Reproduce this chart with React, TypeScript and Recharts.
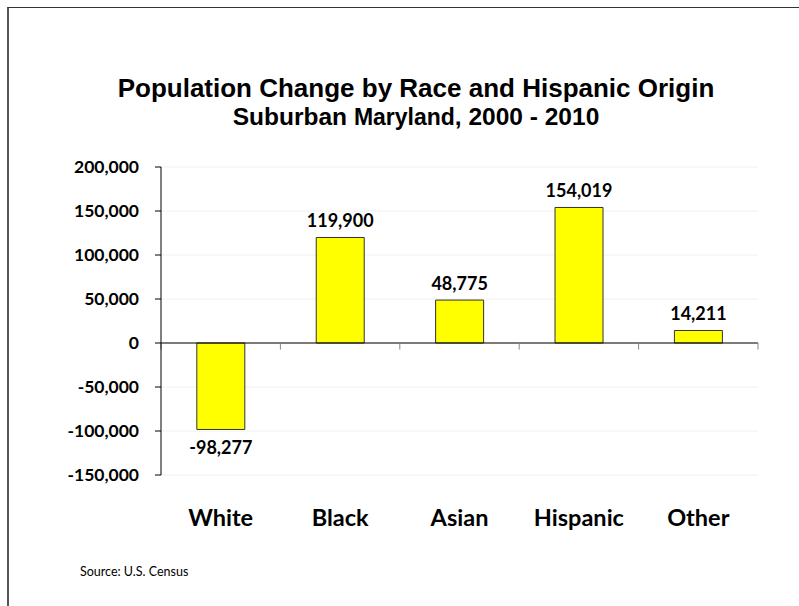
import { BarChart, Bar, XAxis, YAxis, CartesianGrid, ReferenceLine, LabelList } from 'recharts';

const categories = ['White', 'Black', 'Asian', 'Hispanic', 'Other'];
const changes = [-98277, 119900, 48775, 154019, 14211];
const yTicks = [-150000, -100000, -50000, 0, 50000, 100000, 150000, 200000];

const chartData = categories.map((name, i) => ({ name, change: changes[i] }));

const fmt = (v: number) => v.toLocaleString('en-US');
const bodyFont = 'Lato, "Open Sans", sans-serif';

// value label above positive bars, below negative ones
const ValueLabel = (props: any) => {
  const { x, y, width, height, value } = props;
  const top = Math.min(y, y + height);
  const bottom = Math.max(y, y + height);
  const ty = value >= 0 ? top - 10 : bottom + 25;
  return (
    <text x={x + width / 2} y={ty} textAnchor="middle" fontFamily={bodyFont} fontWeight="bold" fontSize={18} fill="#000">
      {fmt(value)}
    </text>
  );
};

const CategoryTick = (props: any) => {
  const { x, y, payload } = props;
  return (
    <text x={x} y={y + 43} textAnchor="middle" fontFamily={bodyFont} fontWeight="bold" fontSize={23.5} fill="#000">
      {payload.value}
    </text>
  );
};

export default function App() {
  return (
    <div style={{ position: 'absolute', left: 0, top: 0, width: 799, height: 606, background: '#fff' }}>
      <div style={{ position: 'absolute', left: 7, top: 7, width: 820, height: 620, borderLeft: '2px solid #555', borderTop: '1px solid #333' }} />
      <svg width={799} height={140} style={{ position: 'absolute', left: 0, top: 0 }}>
        <text x={416} y={97} textAnchor="middle" fontFamily='"Liberation Sans", Arial, sans-serif' fontWeight="bold" fontSize={26} fill="#000">
          Population Change by Race and Hispanic Origin
        </text>
        <text x={416} y={125} textAnchor="middle" fontFamily='"Liberation Sans", Arial, sans-serif' fontWeight="bold" fontSize={24.5} fill="#000">
          Suburban <tspan fontFamily='"Liberation Sans Narrow", "Liberation Sans", sans-serif' fontSize={23}>Maryland</tspan>, 2000 - 2010
        </text>
      </svg>
      <div style={{ position: 'absolute', left: 0, top: 0 }}>
        <BarChart width={799} height={606} data={chartData} margin={{ top: 167, right: 41, left: 61, bottom: 71 }} barCategoryGap="30%">
          <CartesianGrid vertical={false} stroke="#f0f0f0" />
          <XAxis dataKey="name" axisLine={false} tickLine={false} height={60} tick={<CategoryTick />} interval={0} />
          <YAxis
            width={100}
            domain={[-150000, 200000]}
            ticks={yTicks}
            tickFormatter={fmt}
            axisLine={{ stroke: '#000' }}
            tickLine={{ stroke: '#000' }}
            tickSize={6}
            tickMargin={16}
            tick={{ fontFamily: bodyFont, fontWeight: 'bold', fontSize: 17.5, fill: '#000' }}
            interval={0}
          />
          <ReferenceLine y={0} stroke="#000" strokeWidth={1.2} />
          {categories.map((c) => (
            <ReferenceLine key={c} segment={[{ x: c, y: 0 }, { x: c, y: -7500 }]} position="start" stroke="#888" />
          ))}
          <ReferenceLine segment={[{ x: 'Other', y: 0 }, { x: 'Other', y: -7500 }]} position="end" stroke="#888" />
          <Bar dataKey="change" fill="#ffff00" stroke="#333" strokeWidth={1} isAnimationActive={false}>
            <LabelList dataKey="change" content={<ValueLabel />} />
          </Bar>
        </BarChart>
      </div>
      <div style={{ position: 'absolute', left: 80, top: 564, fontFamily: bodyFont, fontSize: 12.5, color: '#000' }}>
        Source: U.S. Census
      </div>
    </div>
  );
}
